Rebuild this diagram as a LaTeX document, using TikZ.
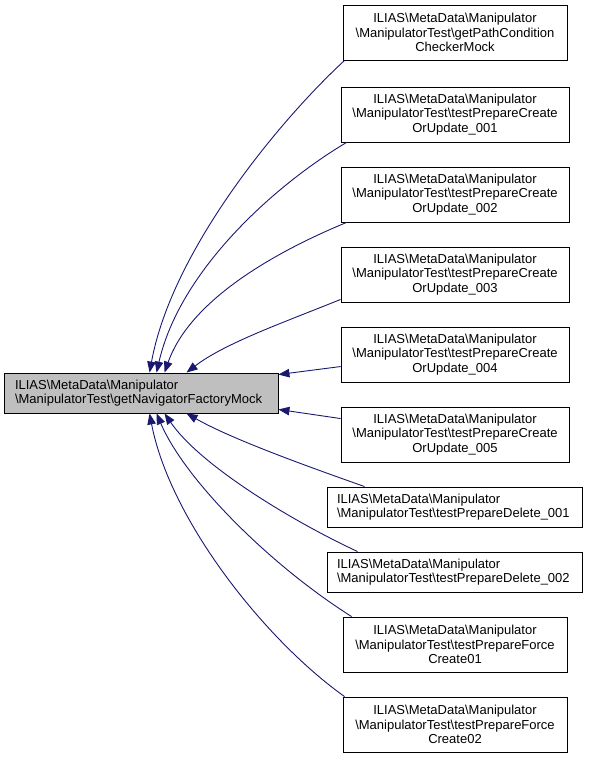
\documentclass[tikz,border=0pt]{standalone}
\usepackage{fontspec}
\setmainfont{Liberation Sans}
\usetikzlibrary{arrows.meta,calc}
\definecolor{edgeblue}{HTML}{191970}
\definecolor{maingray}{HTML}{BFBFBF}
\begin{document}
\begin{tikzpicture}[x=1pt,y=-1pt,
  box/.style={draw=black, line width=0.9pt, inner sep=0pt, align=center,
    font=\fontsize{13}{14.6}\selectfont},
  edge/.style={draw=edgeblue, line width=0.9pt, {Triangle[length=11pt,width=8.5pt]}-}]
\useasboundingbox (0,0) rectangle (588,759);
\node[box, minimum width=274pt, minimum height=40pt, fill=maingray, text width=252pt, align=left] (main) at (141,393)
  {ILIAS\textbackslash MetaData\textbackslash Manipulator\\\textbackslash ManipulatorTest\textbackslash getNavigatorFactoryMock};
\node[box, minimum width=224pt, minimum height=55pt] (b1) at (455,32.5)
  {ILIAS\textbackslash MetaData\textbackslash Manipulator\\\textbackslash ManipulatorTest\textbackslash getPathCondition\\CheckerMock};
\node[box, minimum width=228pt, minimum height=55pt] (b2) at (455,114.5)
  {ILIAS\textbackslash MetaData\textbackslash Manipulator\\\textbackslash ManipulatorTest\textbackslash testPrepareCreate\\OrUpdate\_001};
\node[box, minimum width=228pt, minimum height=55pt] (b3) at (455,194.5)
  {ILIAS\textbackslash MetaData\textbackslash Manipulator\\\textbackslash ManipulatorTest\textbackslash testPrepareCreate\\OrUpdate\_002};
\node[box, minimum width=228pt, minimum height=55pt] (b4) at (455,274.5)
  {ILIAS\textbackslash MetaData\textbackslash Manipulator\\\textbackslash ManipulatorTest\textbackslash testPrepareCreate\\OrUpdate\_003};
\node[box, minimum width=228pt, minimum height=55pt] (b5) at (455,354.5)
  {ILIAS\textbackslash MetaData\textbackslash Manipulator\\\textbackslash ManipulatorTest\textbackslash testPrepareCreate\\OrUpdate\_004};
\node[box, minimum width=228pt, minimum height=55pt] (b6) at (455,434.5)
  {ILIAS\textbackslash MetaData\textbackslash Manipulator\\\textbackslash ManipulatorTest\textbackslash testPrepareCreate\\OrUpdate\_005};
\node[box, minimum width=255pt, minimum height=40pt, text width=235pt, align=left] (d1) at (454.5,507)
  {ILIAS\textbackslash MetaData\textbackslash Manipulator\\\textbackslash ManipulatorTest\textbackslash testPrepareDelete\_001};
\node[box, minimum width=255pt, minimum height=40pt, text width=235pt, align=left] (d2) at (454.5,572)
  {ILIAS\textbackslash MetaData\textbackslash Manipulator\\\textbackslash ManipulatorTest\textbackslash testPrepareDelete\_002};
\node[box, minimum width=224pt, minimum height=55pt] (f1) at (455,644.5)
  {ILIAS\textbackslash MetaData\textbackslash Manipulator\\\textbackslash ManipulatorTest\textbackslash testPrepareForce\\Create01};
\node[box, minimum width=224pt, minimum height=55pt] (f2) at (455,724.5)
  {ILIAS\textbackslash MetaData\textbackslash Manipulator\\\textbackslash ManipulatorTest\textbackslash testPrepareForce\\Create02};
% connectors (arrow at main)
\draw[edge] ([xshift=146pt]main.north west) .. controls (172,250) and (280,120) .. ([xshift=2pt]b1.south west);
\draw[edge] ([xshift=153pt]main.north west) .. controls (180,270) and (275,185) .. ([xshift=6pt]b2.south west);
\draw[edge] ([xshift=161pt]main.north west) .. controls (190,300) and (275,252) .. ([xshift=6pt]b3.south west);
\draw[edge] ([xshift=183pt]main.north west) .. controls (225,343) and (285,322) .. ([yshift=3pt]b4.south west);
\draw[edge] ([yshift=-2pt]main.north east) -- ([yshift=-40pt]b5.north west);
\draw[edge] ([yshift=4pt]main.south east) -- ([yshift=-12pt]b6.north west);
\draw[edge] ([xshift=183pt]main.south west) .. controls (230,438) and (295,462) .. ([xshift=38pt]d1.north west);
\draw[edge] ([xshift=161pt]main.south west) .. controls (200,465) and (290,520) .. ([xshift=31pt]d2.north west);
\draw[edge] ([xshift=153pt]main.south west) .. controls (185,480) and (270,565) .. ([xshift=9pt]f1.north west);
\draw[edge] ([xshift=146pt]main.south west) .. controls (170,520) and (265,640) .. ([xshift=2pt]f2.north west);
\end{tikzpicture}
\end{document}
